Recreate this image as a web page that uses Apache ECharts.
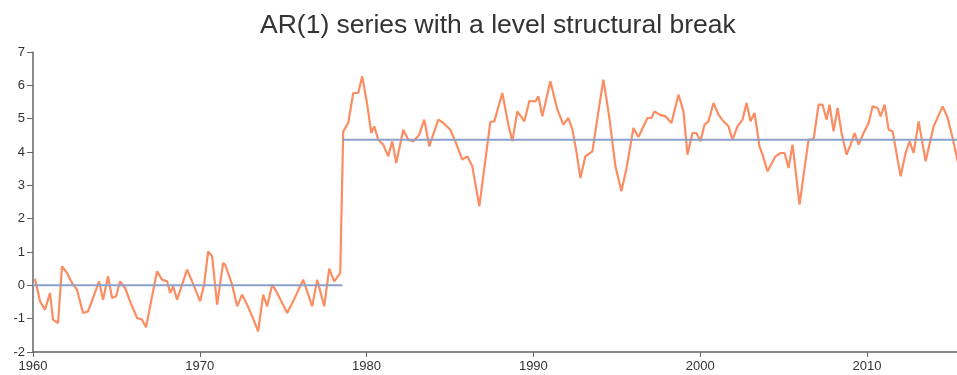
<!DOCTYPE html>
<html>
<head>
<meta charset="utf-8">
<script src="https://cdn.jsdelivr.net/npm/echarts@6/dist/echarts.min.js"></script>
<style>html,body{margin:0;padding:0;background:#fff}#c{width:957px;height:375px}</style>
</head>
<body>
<div id="c"></div>
<script>
const titleText = "AR(1) series with a level structural break";
const xTicks = [1960, 1970, 1980, 1990, 2000, 2010];
const yTicks = [-2, -1, 0, 1, 2, 3, 4, 5, 6, 7];

const years = [
1960.12,1960.42,1960.72,1961.02,1961.20,1961.50,1961.74,1962.04,1962.34,1962.64,
1963.00,1963.30,1963.60,1963.96,1964.20,1964.50,1964.74,1964.98,1965.22,1965.52,
1965.82,1966.24,1966.54,1966.78,1967.08,1967.44,1967.74,1968.04,1968.22,1968.40,
1968.64,1969.24,1969.54,1970.02,1970.26,1970.50,1970.74,1971.04,1971.40,1971.52,
1971.94,1972.24,1972.54,1972.84,1973.14,1973.50,1973.80,1974.04,1974.34,1974.64,
1974.94,1975.24,1975.60,1975.90,1976.20,1976.74,1977.04,1977.46,1977.76,1978.06,
1978.42,1978.60,1978.90,1979.20,1979.50,1979.74,1980.04,1980.28,1980.46,1980.70,
1981.00,1981.30,1981.54,1981.78,1982.20,1982.50,1982.80,1983.16,1983.46,1983.76,
1984.30,1984.60,1985.02,1985.32,1985.74,1986.04,1986.34,1986.76,1987.42,1987.66,
1988.14,1988.50,1988.74,1989.04,1989.46,1989.76,1990.12,1990.30,1990.54,1991.02,
1991.44,1991.80,1992.10,1992.34,1992.58,1992.82,1993.12,1993.54,1993.90,1994.20,
1994.56,1994.92,1995.28,1995.58,1996.00,1996.30,1996.84,1997.08,1997.26,1997.56,
1997.92,1998.28,1998.70,1999.00,1999.24,1999.54,1999.78,2000.02,2000.26,2000.50,
2000.80,2001.10,2001.40,2001.70,2001.94,2002.24,2002.54,2002.78,2003.02,2003.26,
2003.56,2003.74,2004.04,2004.52,2004.82,2005.06,2005.30,2005.54,2005.96,2006.50,
2006.80,2007.10,2007.34,2007.58,2007.76,2008.00,2008.24,2008.48,2008.78,2009.02,
2009.26,2009.50,2009.80,2010.10,2010.34,2010.64,2010.82,2011.06,2011.30,2011.54,
2012.02,2012.32,2012.56,2012.80,2013.10,2013.52,2014.00,2014.54,2014.84,2015.14,
2015.44,2015.74
];
const values = [
0.20,-0.48,-0.73,-0.23,-1.03,-1.13,0.57,0.37,0.07,-0.13,
-0.83,-0.78,-0.38,0.12,-0.43,0.27,-0.38,-0.33,0.12,-0.08,
-0.48,-0.98,-1.03,-1.26,-0.48,0.42,0.17,0.12,-0.23,-0.03,
-0.43,0.47,0.12,-0.48,0.02,1.02,0.87,-0.58,0.67,0.62,
0.02,-0.63,-0.28,-0.58,-0.93,-1.38,-0.28,-0.63,0.02,-0.23,
-0.53,-0.83,-0.48,-0.15,0.17,-0.63,0.17,-0.63,0.50,0.12,
0.37,4.62,4.87,5.77,5.77,6.27,5.42,4.57,4.77,4.37,
4.22,3.87,4.32,3.67,4.67,4.37,4.32,4.52,4.97,4.17,
4.97,4.87,4.67,4.32,3.77,3.87,3.57,2.37,4.90,4.92,
5.77,4.82,4.32,5.22,4.92,5.53,5.52,5.67,5.07,6.12,
5.27,4.82,5.02,4.67,4.02,3.22,3.87,4.02,5.22,6.17,
5.02,3.57,2.82,3.50,4.72,4.45,5.02,5.02,5.22,5.12,
5.07,4.87,5.72,5.22,3.92,4.57,4.57,4.32,4.82,4.92,
5.47,5.12,4.92,4.77,4.37,4.77,4.97,5.47,4.92,5.17,
4.17,3.92,3.42,3.87,3.97,3.97,3.52,4.22,2.42,4.37,
4.37,5.42,5.42,4.97,5.42,4.62,5.32,4.57,3.92,4.22,
4.57,4.22,4.57,4.87,5.37,5.32,5.07,5.42,4.67,4.62,
3.27,3.97,4.32,3.97,4.92,3.72,4.77,5.37,5.02,4.42,
3.72,3.30
];
const breakYear = 1978.55;
const startYear = 1960;
const endYear = 2016;
const meanLevels = [0, 4.37];

const series = years.map((y, i) => [y, values[i]]);
const chart = echarts.init(document.getElementById('c'), null, {renderer: 'canvas'});
const axisColor = '#666';
const labelColor = '#333';
chart.setOption({
  animation: false,
  backgroundColor: '#fff',
  title: {
    text: titleText, left: 255, top: 7,
    textStyle: {fontFamily: 'Liberation Sans, Arial, sans-serif', fontSize: 26.5, fontWeight: 'normal', color: '#333'}
  },
  grid: {left: 33, right: 0, top: 52, bottom: 23, containLabel: false},
  xAxis: {
    type: 'value', min: xTicks[0], max: 2015.4, interval: 10,
    axisLine: {show: true, onZero: false, lineStyle: {color: axisColor, width: 1.5}},
    axisTick: {show: true, length: 5, lineStyle: {color: axisColor}},
    axisLabel: {color: labelColor, fontSize: 13, fontFamily: 'Liberation Sans, Arial, sans-serif', margin: 8, showMaxLabel: false, formatter: v => String(v)},
    splitLine: {show: false}
  },
  yAxis: {
    type: 'value', min: yTicks[0], max: yTicks[yTicks.length - 1], interval: 1,
    axisLine: {show: true, lineStyle: {color: axisColor, width: 1.5}},
    axisTick: {show: true, length: 6, lineStyle: {color: axisColor}},
    axisLabel: {color: labelColor, fontSize: 13, fontFamily: 'Liberation Sans, Arial, sans-serif', margin: 8},
    splitLine: {show: false}
  },
  series: [
    {type: 'line', data: series, showSymbol: false, symbol: 'none', lineStyle: {color: '#fc8d62', width: 2.2}, z: 2},
    {type: 'line', data: [[startYear, meanLevels[0]], [breakYear, meanLevels[0]]], symbol: 'none', lineStyle: {color: '#8da0cb', width: 2}, z: 3},
    {type: 'line', data: [[breakYear, meanLevels[1]], [endYear, meanLevels[1]]], symbol: 'none', lineStyle: {color: '#8da0cb', width: 2}, z: 3}
  ]
});
</script>
</body>
</html>
